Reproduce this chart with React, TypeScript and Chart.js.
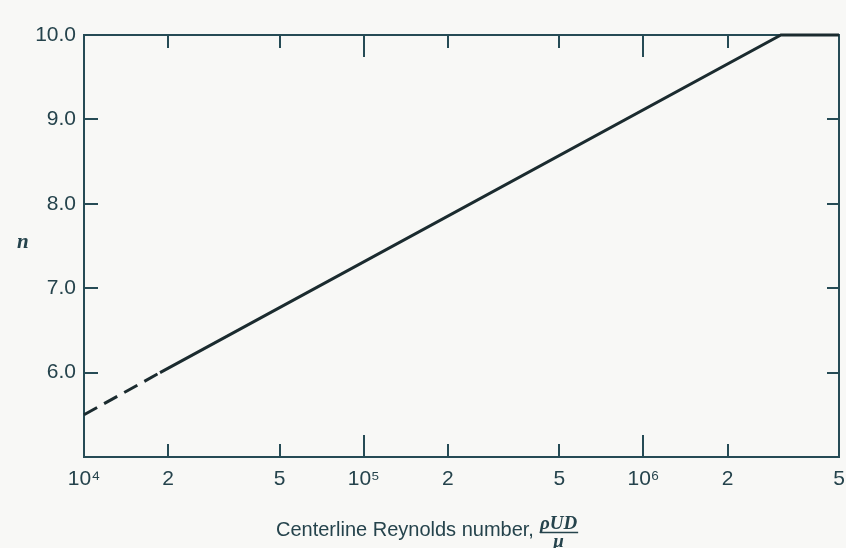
import React, { useEffect, useRef } from 'react';
import { Chart, registerables } from 'chart.js';

Chart.register(...registerables);

// ---- data ----
const X_TICK_VALUES = [1e4, 2e4, 5e4, 1e5, 2e5, 5e5, 1e6, 2e6, 5e6];
const X_TICK_LABELS = ['10⁴', '2', '5', '10⁵', '2', '5', '10⁶', '2', '5'];
const X_DECADES = [1e4, 1e5, 1e6];
const Y_TICK_VALUES = [6, 7, 8, 9, 10];
const Y_TICK_LABELS = ['6.0', '7.0', '8.0', '9.0', '10.0'];
const DASHED_RE = [1e4, 1.87e4];
const DASHED_N = [5.5, 6.0];
const SOLID_RE = [1.87e4, 3.1e6, 5e6];
const SOLID_N = [6.0, 10.0, 10.0];
const X_MIN = 1e4;
const X_MAX = 5e6;
const Y_MIN = 5;
const Y_MAX = 10;
const X_TITLE = 'Centerline Reynolds number,';
const X_TITLE_NUM = 'ρUD';
const X_TITLE_DEN = 'μ';
const Y_TITLE = 'n';

const BG = '#f8f8f6';
const AXIS = '#264b55';
const TEXT = '#25434c';
const LINE = '#1b2b2f';
const FONT = '"Liberation Sans", Arial, sans-serif';

const framePlugin = {
  id: 'frame',
  beforeDraw(chart: any) {
    const { ctx, width, height } = chart;
    ctx.save();
    ctx.fillStyle = BG;
    ctx.fillRect(0, 0, width, height);
    ctx.restore();
  },
  beforeDatasetsDraw(chart: any) {
    const { ctx, chartArea } = chart;
    const { left, right, top, bottom } = chartArea;
    const xs = chart.scales.x;
    const ys = chart.scales.y;
    ctx.save();
    ctx.strokeStyle = AXIS;
    ctx.lineWidth = 2;
    ctx.strokeRect(left, top, right - left, bottom - top);
    ctx.beginPath();
    X_TICK_VALUES.forEach((v) => {
      if (v <= X_MIN || v >= X_MAX) return;
      const px = Math.round(xs.getPixelForValue(v));
      const len = X_DECADES.includes(v) ? 22 : 13;
      ctx.moveTo(px, bottom);
      ctx.lineTo(px, bottom - len);
      ctx.moveTo(px, top);
      ctx.lineTo(px, top + len);
    });
    Y_TICK_VALUES.forEach((v) => {
      if (v <= Y_MIN || v >= Y_MAX) return;
      const py = Math.round(ys.getPixelForValue(v));
      ctx.moveTo(left, py);
      ctx.lineTo(left + 14, py);
      ctx.moveTo(right, py);
      ctx.lineTo(right - 12, py);
    });
    ctx.stroke();
    ctx.restore();
  },
  afterDraw(chart: any) {
    const { ctx } = chart;
    ctx.save();
    ctx.fillStyle = TEXT;
    ctx.textBaseline = 'alphabetic';
    ctx.textAlign = 'left';
    ctx.font = `20px ${FONT}`;
    const tx = 276;
    ctx.fillText(X_TITLE, tx, 536);
    const w = ctx.measureText(X_TITLE).width;
    ctx.font = `italic bold 19px "Liberation Serif", serif`;
    const nw = ctx.measureText(X_TITLE_NUM).width;
    const fx = tx + w + 6;
    ctx.fillText(X_TITLE_NUM, fx, 529);
    ctx.strokeStyle = TEXT;
    ctx.lineWidth = 1.5;
    ctx.beginPath();
    ctx.moveTo(fx, 532.5);
    ctx.lineTo(fx + nw + 1, 532.5);
    ctx.stroke();
    ctx.textAlign = 'center';
    ctx.fillText(X_TITLE_DEN, fx + nw / 2, 547);
    ctx.textAlign = 'left';
    ctx.font = `italic bold 21px "Liberation Serif", serif`;
    ctx.fillText(Y_TITLE, 17, 248);
    ctx.restore();
  },
};

export default function App() {
  const ref = useRef<HTMLCanvasElement | null>(null);
  useEffect(() => {
    document.body.style.margin = '0';
    const canvas = ref.current;
    if (!canvas) return;
    const chart = new Chart(canvas, {
      type: 'line',
      data: {
        datasets: [
          {
            data: DASHED_RE.map((x, i) => ({ x, y: DASHED_N[i] })),
            borderColor: LINE,
            borderWidth: 3,
            borderDash: [15, 8],
            pointRadius: 0,
            fill: false,
            tension: 0,
            clip: false as any,
          },
          {
            data: SOLID_RE.map((x, i) => ({ x, y: SOLID_N[i] })),
            borderColor: LINE,
            borderWidth: 3,
            pointRadius: 0,
            fill: false,
            tension: 0,
            clip: false as any,
          },
        ],
      },
      options: {
        responsive: false,
        animation: false,
        devicePixelRatio: 1,
        layout: { padding: { top: 35, right: 7, left: 0, bottom: 0 } },
        plugins: { legend: { display: false }, tooltip: { enabled: false } },
        scales: {
          x: {
            type: 'logarithmic',
            min: X_MIN,
            max: X_MAX,
            grid: { display: false, drawTicks: false },
            border: { display: false },
            afterBuildTicks: (s: any) => {
              s.ticks = X_TICK_VALUES.map((v) => ({ value: v }));
            },
            afterFit: (s: any) => {
              s.height = 91;
              s.paddingLeft = 0;
              s.paddingRight = 0;
            },
            ticks: {
              autoSkip: false,
              maxRotation: 0,
              minRotation: 0,
              padding: 10,
              color: TEXT,
              font: { family: FONT, size: 21 },
              callback: (_v: any, i: number) => X_TICK_LABELS[i],
            },
          },
          y: {
            type: 'linear',
            min: Y_MIN,
            max: Y_MAX,
            grid: { display: false, drawTicks: false },
            border: { display: false },
            afterBuildTicks: (s: any) => {
              s.ticks = Y_TICK_VALUES.map((v) => ({ value: v }));
            },
            afterFit: (s: any) => {
              s.width = 84;
              s.paddingTop = 0;
              s.paddingBottom = 0;
            },
            ticks: {
              padding: 8,
              color: TEXT,
              font: { family: FONT, size: 21 },
              callback: (_v: any, i: number) => Y_TICK_LABELS[i],
            },
          },
        },
      },
      plugins: [framePlugin],
    } as any);
    return () => chart.destroy();
  }, []);
  return (
    <div style={{ position: 'fixed', left: 0, top: 0, width: 846, height: 548, background: BG }}>
      <canvas ref={ref} width={846} height={548} style={{ display: 'block', width: 846, height: 548 }} />
    </div>
  );
}
